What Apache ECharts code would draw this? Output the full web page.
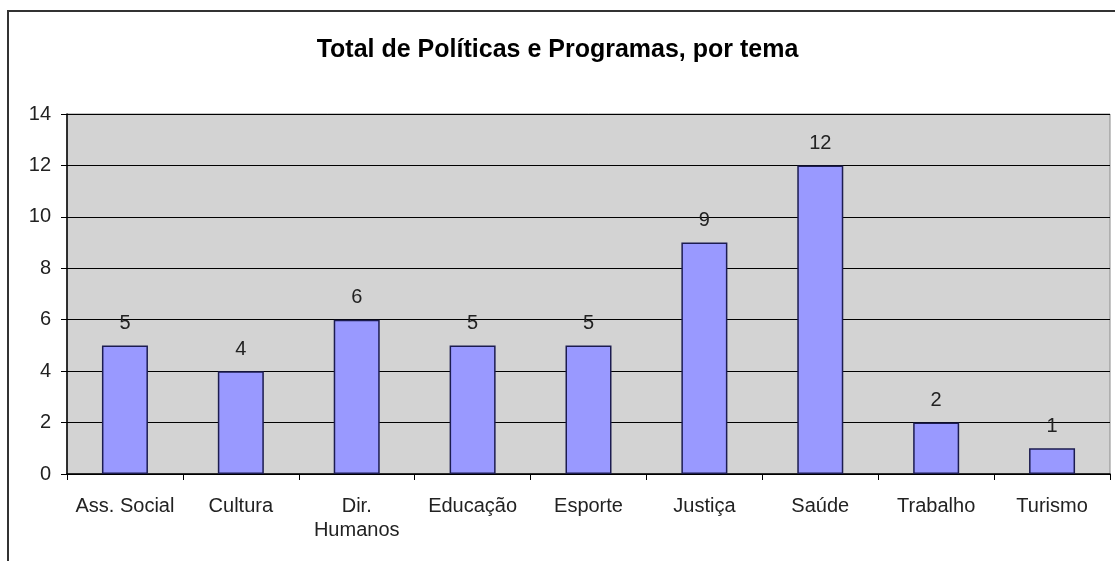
<!DOCTYPE html>
<html>
<head>
<meta charset="utf-8">
<script src="https://cdn.jsdelivr.net/npm/echarts@6/dist/echarts.min.js"></script>
<style>
  html, body { margin: 0; padding: 0; background: #fff; }
  #chart { width: 1115px; height: 561px; }
</style>
</head>
<body>
<div id="chart"></div>
<script>
const categories = ['Ass. Social', 'Cultura', 'Dir.\nHumanos', 'Educação', 'Esporte', 'Justiça', 'Saúde', 'Trabalho', 'Turismo']
const totals = [5, 4, 6, 5, 5, 9, 12, 2, 1]
const yTicks = { min: 0, max: 14, interval: 2 }

const font = 'Liberation Sans, Arial, sans-serif'

const chart = echarts.init(document.getElementById('chart'))
chart.setOption({
  animation: false,
  title: {
    text: 'Total de Políticas e Programas, por tema',
    left: 'center',
    top: 33,
    textStyle: { fontFamily: font, fontSize: 25, fontWeight: 'bold', color: '#000' }
  },
  graphic: [{
    type: 'rect',
    shape: { x: 8, y: 11, width: 1300, height: 700 },
    style: { fill: 'none', stroke: '#333', lineWidth: 2 },
    silent: true
  }],
  grid: {
    left: 67, right: 5, top: 114, bottom: 87,
    show: true,
    backgroundColor: '#d3d3d3',
    borderColor: '#8a8a8a',
    borderWidth: 1
  },
  xAxis: {
    type: 'category',
    data: categories,
    axisLine: { lineStyle: { color: '#000', width: 1.5 } },
    axisTick: { show: true, length: 6, lineStyle: { color: '#000' } },
    axisLabel: { fontFamily: font, fontSize: 20, color: '#222', margin: 20, lineHeight: 24, interval: 0 }
  },
  yAxis: {
    type: 'value',
    min: yTicks.min, max: yTicks.max, interval: yTicks.interval,
    axisLine: { show: true, lineStyle: { color: '#000', width: 1.5 } },
    axisTick: { show: true, length: 6, lineStyle: { color: '#000' } },
    axisLabel: { fontFamily: font, fontSize: 20, color: '#222', margin: 16 },
    splitLine: { lineStyle: { color: '#000', width: 1.2 } }
  },
  series: [{
    type: 'bar',
    data: totals,
    barWidth: 46,
    itemStyle: { color: '#9999ff', borderColor: '#1c1c50', borderWidth: 1.5 },
    label: {
      show: true, position: 'top', distance: 12,
      fontFamily: font, fontSize: 20, color: '#222'
    }
  }]
})
</script>
</body>
</html>
